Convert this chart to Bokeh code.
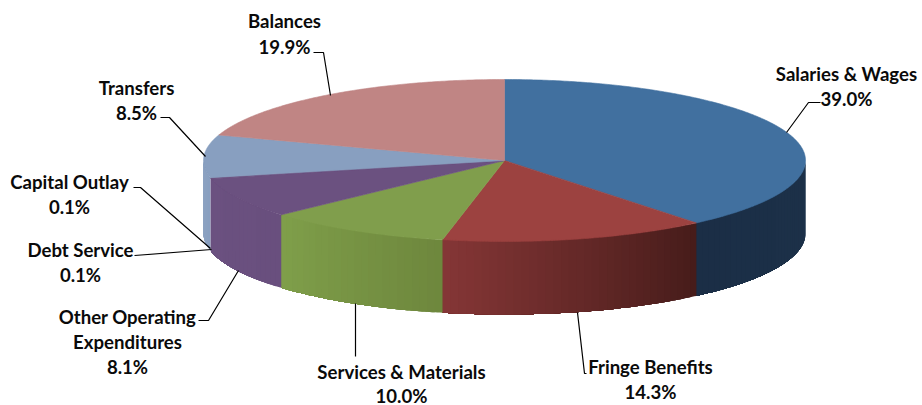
import math
from bokeh.plotting import figure
from bokeh.models import Range1d
from bokeh.core.properties import value
from bokeh.embed import file_html
from bokeh.resources import INLINE

# Budget shares, clockwise from twelve o'clock
categories = ["Salaries & Wages", "Fringe Benefits", "Services & Materials",
              "Other Operating Expenditures", "Debt Service", "Capital Outlay",
              "Transfers", "Balances"]
shares = [39.0, 14.3, 10.0, 8.1, 0.1, 0.1, 8.5, 19.9]
top_colors = ["#41709f", "#9c4240", "#809e4c", "#6b5180", "#6b5180", "#6b5180", "#889fc0", "#c08584"]
# Wall shading runs along the rim in the same clockwise direction
side_start = ["#1c3149", "#461c1a", "#6e873d", "#694f7e", "#694f7e", "#694f7e", "#889fc0", "#c08584"]
side_end = ["#1b2e46", "#853636", "#7f9f4a", "#6b5180", "#6b5180", "#6b5180", "#8ea3c2", "#c08584"]

# Pie projection
CX, CY, RX, RY, DEPTH = 504, 160, 301, 81, 73

# Label blocks: centre x, then one middle y per line
label_lines = [
    (846, [(73, "Salaries & Wages"), (98, "39.0%")]),
    (650, [(366, "Fringe Benefits"), (391, "14.3%")]),
    (401, [(371, "Services & Materials"), (395, "10.0%")]),
    (127, [(316, "Other Operating"), (341, "Expenditures"), (366, "8.1%")]),
    (80, [(249, "Debt Service"), (274, "0.1%")]),
    (69, [(181, "Capital Outlay"), (206, "0.1%")]),
    (136, [(87, "Transfers"), (112, "8.5%")]),
    (284, [(20, "Balances"), (46, "19.9%")]),
]

# Leader lines from each slice to its label
leaders = [
    ([786, 808, 820], [132, 102, 102]),
    ([577, 584, 586], [312, 373, 373]),
    ([355, 355], [303, 356]),
    ([238, 208, 198], [270, 320, 320]),
    ([211, 134], [249, 255]),
    ([210, 140, 133], [248, 187, 187]),
    ([205, 169, 160], [156, 117, 117]),
    ([330, 323, 313], [95, 52, 52]),
]


def rim(deg, drop=0.0):
    a = math.radians(deg)
    return CX + RX * math.sin(a), CY - RY * math.cos(a) + drop


def mix(c1, c2, t):
    p = [int(c1[i:i + 2], 16) for i in (1, 3, 5)]
    q = [int(c2[i:i + 2], 16) for i in (1, 3, 5)]
    return "#%02x%02x%02x" % tuple(round(a + (b - a) * t) for a, b in zip(p, q))


p = figure(width=922, height=405, output_backend="svg", toolbar_location=None,
           x_range=Range1d(0, 922), y_range=Range1d(405, 0),
           min_border=0, outline_line_color=None)
p.axis.visible = False
p.grid.visible = False

total = sum(shares)
edges = [0.0]
for s in shares:
    edges.append(edges[-1] + s / total * 360)

# Outer wall: only the front half of the rim faces the viewer.
# Each band reaches to the slice's far end and the next one paints over it, so no seams show.
for i in range(len(shares)):
    lo, hi = max(edges[i], 90), min(edges[i + 1], 270)
    if hi <= lo:
        continue
    steps = max(1, int((hi - lo) / 1.5))
    for k in range(steps):
        a0 = lo + (hi - lo) * k / steps
        a1 = hi
        n = max(2, int((a1 - a0) * 2))
        pts = [a0 + (a1 - a0) * j / n for j in range(n + 1)]
        top = [rim(a) for a in pts]
        bot = [rim(a, DEPTH) for a in reversed(pts)]
        col = mix(side_start[i], side_end[i], (k + 0.5) / steps)
        p.patch([q[0] for q in top + bot], [q[1] for q in top + bot],
                fill_color=col, line_color=None)

# Top face
for i in range(len(shares)):
    n = max(2, int((edges[i + 1] - edges[i]) * 2))
    arc = [rim(edges[i] + (edges[i + 1] - edges[i]) * j / n) for j in range(n + 1)]
    xs = [CX] + [q[0] for q in arc]
    ys = [CY] + [q[1] for q in arc]
    p.patch(xs, ys, fill_color=top_colors[i], line_color=top_colors[i], line_width=0.6)

for xs, ys in leaders:
    p.line(xs, ys, line_color="#000000", line_width=1.2)

for cx, rows in label_lines:
    for y, txt in rows:
        p.text([cx], [y], text=[txt], text_font=value("Lato"), text_font_style="bold",
               text_font_size="18.6px", text_align="center", text_baseline="middle",
               text_color="#0a0a0a")

open("out.html", "w").write(file_html(p, INLINE))
